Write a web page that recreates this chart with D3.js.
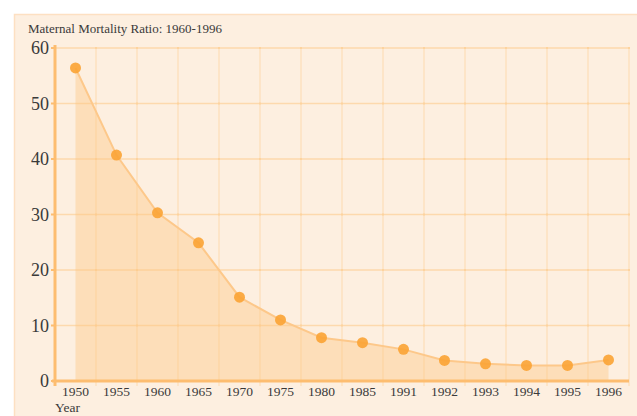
<!DOCTYPE html>
<html>
<head>
<meta charset="utf-8">
<script src="https://cdn.jsdelivr.net/npm/d3@7"></script>
<style>
  body { margin: 0; background: #fff; }
  svg text { font-family: "Liberation Serif", "DejaVu Serif", serif; fill: #3a3a3a; }
</style>
</head>
<body>
<div id="chart"></div>
<script>
// chart values
const years = ["1950","1955","1960","1965","1970","1975","1980","1985","1991","1992","1993","1994","1995","1996"]
const ratios = [56.4, 40.7, 30.3, 24.9, 15.1, 11.0, 7.8, 6.9, 5.7, 3.7, 3.1, 2.8, 2.8, 3.8]
const yTicks = [0, 10, 20, 30, 40, 50, 60]
const title = "Maternal Mortality Ratio: 1960-1996"

const W = 637, H = 416

const svg = d3.select("#chart").append("svg")
    .attr("width", W)
    .attr("height", H)

// panel
svg.append("rect")
    .attr("x", 14.5).attr("y", 14.5)
    .attr("width", W).attr("height", H)
    .attr("fill", "#fdefe0")
    .attr("stroke", "#fde0c2")
    .attr("stroke-width", 1.5)

svg.append("text")
    .attr("x", 28).attr("y", 33)
    .style("font-size", "13px")
    .text(title)

let x = d3.scaleBand().domain(years).range([55, 629])
let y = d3.scaleLinear().domain([0, 60]).range([381, 48])

let data = years.map((d, i) => ({year: d, v: ratios[i]}))
let cx = d => x(d.year) + x.bandwidth() / 2

// grid
let grid = svg.append("g")
grid.selectAll(".hg")
    .data(yTicks.slice(1))
    .enter().append("line")
        .attr("x1", 55).attr("x2", 629)
        .attr("y1", d => y(d)).attr("y2", d => y(d))
        .attr("stroke", "#fdd9ad")
        .attr("stroke-width", 1.3)

let bounds = years.map(d => x(d) + x.bandwidth())
grid.selectAll(".vg")
    .data(bounds)
    .enter().append("line")
        .attr("x1", d => d).attr("x2", d => d)
        .attr("y1", y(60)).attr("y2", 386)
        .attr("stroke", "#fddfbb")
        .attr("stroke-width", 1.3)

// small marks where grid lines cross
let crossings = []
bounds.forEach(b => yTicks.slice(1).forEach(t => crossings.push([b, y(t)])))
grid.selectAll(".cr")
    .data(crossings)
    .enter().append("rect")
        .attr("x", d => d[0] - 1).attr("y", d => d[1] - 1)
        .attr("width", 2).attr("height", 2)
        .attr("fill", "#fdd39e")

// area + line
let area = d3.area()
    .x(cx)
    .y0(y(0))
    .y1(d => y(d.v))

let line = d3.line()
    .x(cx)
    .y(d => y(d.v))

svg.append("path")
    .datum(data)
    .attr("d", area)
    .attr("fill", "#fdc67f")
    .attr("opacity", 0.4)

svg.append("path")
    .datum(data)
    .attr("d", line)
    .attr("fill", "none")
    .attr("stroke", "#fdc88a")
    .attr("stroke-width", 2)

// axes
svg.append("line")
    .attr("x1", 52).attr("x2", 629)
    .attr("y1", y(0)).attr("y2", y(0))
    .attr("stroke", "#fdbd70")
    .attr("stroke-width", 3)

svg.append("line")
    .attr("x1", 55).attr("x2", 55)
    .attr("y1", 45).attr("y2", 386)
    .attr("stroke", "#fdbd70")
    .attr("stroke-width", 3)

svg.selectAll(".yt")
    .data(yTicks)
    .enter().append("line")
        .attr("x1", 51).attr("x2", 55)
        .attr("y1", d => y(d)).attr("y2", d => y(d))
        .attr("stroke", "#fdbd70")
        .attr("stroke-width", 2)

// points
svg.selectAll("circle")
    .data(data)
    .enter().append("circle")
        .attr("cx", cx)
        .attr("cy", d => y(d.v))
        .attr("r", 5.5)
        .attr("fill", "#fba334")
        .attr("opacity", 0.9)

// labels
svg.selectAll(".ylab")
    .data(yTicks)
    .enter().append("text")
        .attr("x", 49)
        .attr("y", d => y(d) + 6)
        .attr("text-anchor", "end")
        .style("font-size", "18px")
        .text(d => d)

svg.selectAll(".xlab")
    .data(years)
    .enter().append("text")
        .attr("x", d => x(d) + x.bandwidth() / 2)
        .attr("y", 396)
        .attr("text-anchor", "middle")
        .style("font-size", "13.5px")
        .text(d => d)

svg.append("text")
    .attr("x", 55).attr("y", 412)
    .style("font-size", "13.5px")
    .text("Year")
</script>
</body>
</html>
